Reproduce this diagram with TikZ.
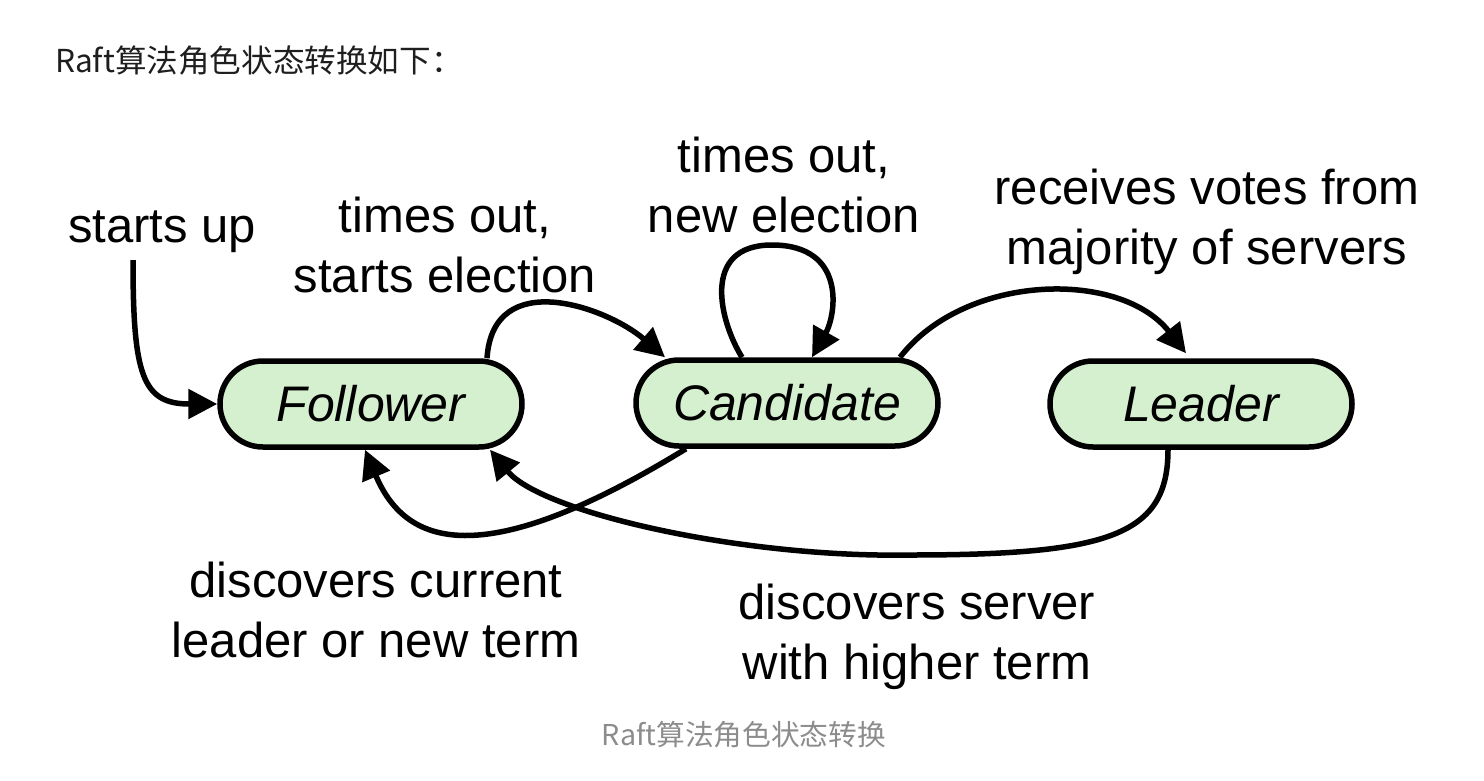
\documentclass[tikz,border=0pt]{standalone}
\usepackage{fontspec}
\setmainfont{Liberation Sans}
\newfontfamily\cjk{Noto Sans CJK SC}
\usetikzlibrary{shapes.misc,arrows.meta}
\definecolor{nodegreen}{RGB}{213,240,207}
\definecolor{capgray}{RGB}{140,140,140}
\definecolor{titleblack}{RGB}{30,30,30}
\begin{document}
\begin{tikzpicture}[x=1pt,y=-1pt,
  state/.style={rounded rectangle, draw, line width=5.5pt, fill=nodegreen,
    minimum width=302pt, minimum height=86pt, inner sep=0pt,
    font=\fontsize{50}{60}\selectfont\itshape},
  lbl/.style={align=center, font=\fontsize{49}{60}\selectfont, anchor=base, inner sep=0pt},
  conn/.style={line width=5.5pt, -{Triangle[length=29pt,width=29pt]}},
]
\useasboundingbox (0,0) rectangle (1484,780);

\node[anchor=base west, inner sep=0pt, text=titleblack, font=\cjk\fontsize{31.6}{38}\selectfont] (title) at (55,72) {Raft算法角色状态转换如下：};

\node[state] (Follower) at (371,404) {Follower};
\node[state] (Candidate) at (787,403) {Candidate};
\node[state] (Leader) at (1201,404) {Leader};

\coordinate (su) at (133,260);

\node[lbl] (lsu) at (162,242) {starts up};
\node[lbl] (lfc) at (445,292) {times out,\\starts election};
\node[lbl] (lcc) at (784,232) {times out,\\new election};
\node[lbl] (lcl) at (1207,264) {receives votes from\\majority of servers};
\node[lbl] (lcf) at (376,657) {discovers current\\leader or new term};
\node[lbl] (llf) at (917,679) {discovers server\\with higher term};

\draw[conn] (su) .. controls +(0,115) and +(-75,0) .. (Follower.west);
\draw[conn] ([xshift=116pt]Follower.north) .. controls +(6,-92) and +(-58,-50) .. ([xshift=-122pt]Candidate.north);
\draw[conn] ([xshift=-45pt]Candidate.north) .. controls (720,322) and (700,245) .. (772,245) .. controls (847,245) and (836,315) .. ([xshift=25pt]Candidate.north);
\draw[conn] ([xshift=113pt]Candidate.north) .. controls +(65,-84) and +(-66,-84) .. ([xshift=-15pt,yshift=5pt]Leader.north);
\draw[conn] ([xshift=-101pt]Candidate.south) .. controls (480,575) and (405,545) .. ([xshift=-6pt]Follower.south);
\draw[conn] ([xshift=-33pt]Leader.south) .. controls +(0,85) and (1110,555) .. (910,555) .. controls (740,558) and (541,512) .. ([xshift=119pt]Follower.south);

\node[anchor=base, inner sep=0pt, text=capgray, font=\cjk\fontsize{28.7}{34}\selectfont] (caption) at (744,745) {Raft算法角色状态转换};
\end{tikzpicture}
\end{document}
